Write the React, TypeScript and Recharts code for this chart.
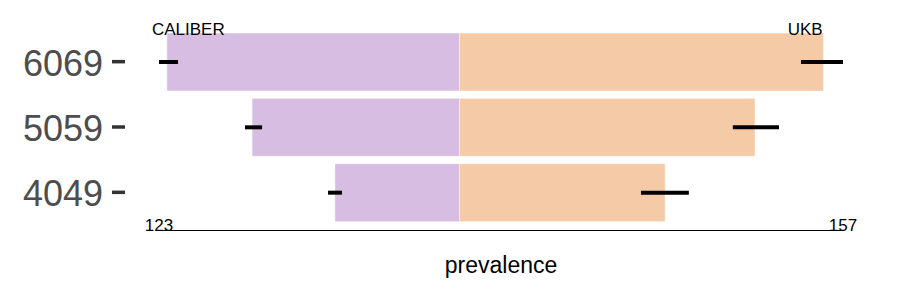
import { Bar, BarChart, ErrorBar, ReferenceDot, XAxis, YAxis } from "recharts";

const FONT = '"Liberation Sans", Arial, Helvetica, sans-serif';

const ageGroups = ["6069", "5059", "4049"];
const caliber = [119.8, 84.9, 51.0];
const caliberLow = [115.2, 80.8, 48.1];
const caliberHigh = [123.0, 87.8, 53.8];
const ukb = [149.0, 121.0, 84.2];
const ukbLow = [139.8, 111.9, 74.3];
const ukbHigh = [157.0, 130.8, 93.9];
const axisEnds = [-123, 157];
const sources = ["CALIBER", "UKB"];
const sourceLabelAt = [-111, 141.5];

// caliber is drawn to the left of zero, ukb to the right
const data = ageGroups.map((g, i) => ({
  group: g,
  caliber: -caliber[i],
  caliberErr: [caliberHigh[i] - caliber[i], caliber[i] - caliberLow[i]],
  ukb: ukb[i],
  ukbErr: [ukb[i] - ukbLow[i], ukbHigh[i] - ukb[i]],
}));

function GroupTick({ x, y, payload }: any) {
  return (
    <g>
      <text x={x - 56} y={y + 14} textAnchor="end" fontSize={36} fill="#4d4d4d" fontFamily={FONT}>
        {payload.value}
      </text>
      <line x1={x - 47} x2={x - 34} y1={y} y2={y} stroke="#333333" strokeWidth={3.5} />
    </g>
  );
}

function EndTick({ x, y, payload }: any) {
  return (
    <text x={x} y={y} textAnchor="middle" fontSize={17} fill="#000" fontFamily={FONT}>
      {Math.abs(payload.value)}
    </text>
  );
}

export default function App() {
  return (
    <div style={{ position: "absolute", left: 0, top: 0, fontFamily: FONT }}>
      <BarChart
        width={900}
        height={300}
        data={data}
        layout="vertical"
        margin={{ top: 29, right: 57, bottom: 0, left: 0 }}
        barSize={58}
        barGap={-58}
      >
        <XAxis
          type="number"
          domain={axisEnds}
          ticks={axisEnds}
          allowDataOverflow
          interval={0}
          tickLine={false}
          tickSize={0}
          tickMargin={0}
          tick={<EndTick />}
          axisLine={{ stroke: "#000", strokeWidth: 1 }}
          height={69.5}
          label={{ value: "prevalence", position: "insideBottom", offset: 27, fontSize: 23, fill: "#000" }}
        />
        <YAxis
          type="category"
          dataKey="group"
          width={159}
          axisLine={false}
          tickLine={false}
          tickSize={0}
          tickMargin={0}
          tick={<GroupTick />}
          padding={{ top: 0, bottom: 5.5 }}
        />
        <Bar dataKey="caliber" fill="#D7BDE2" stroke="#ffffff" strokeWidth={0.5} isAnimationActive={false}>
          <ErrorBar dataKey="caliberErr" direction="x" width={0} stroke="#000" strokeWidth={4} />
        </Bar>
        <Bar dataKey="ukb" fill="#F5CBA7" stroke="#ffffff" strokeWidth={0.5} isAnimationActive={false}>
          <ErrorBar dataKey="ukbErr" direction="x" width={0} stroke="#000" strokeWidth={4} />
        </Bar>
        {sources.map((s, i) => (
          <ReferenceDot
            key={s}
            x={sourceLabelAt[i]}
            y={ageGroups[0]}
            r={0}
            fill="none"
            stroke="none"
            label={{ value: s, position: "top", offset: 27, fontSize: 17, fill: "#000" }}
          />
        ))}
      </BarChart>
    </div>
  );
}
